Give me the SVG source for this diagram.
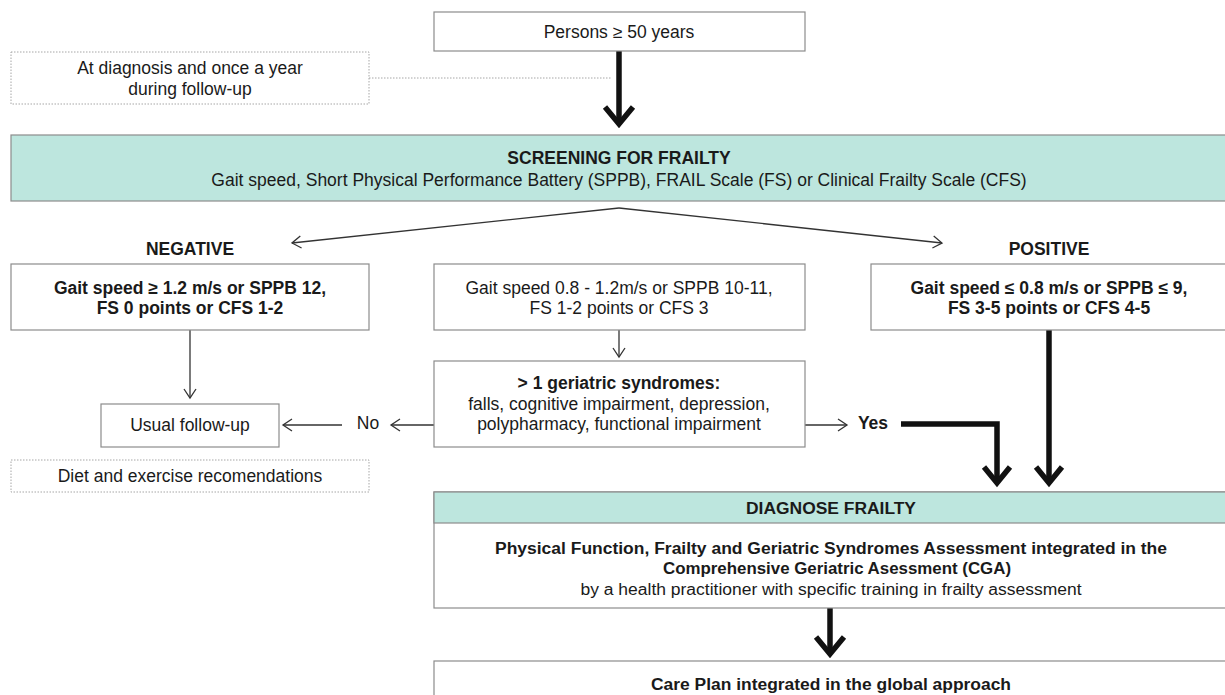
<svg xmlns="http://www.w3.org/2000/svg" width="1225" height="695" viewBox="0 0 1225 695">
<style>
text{font-family:"Liberation Sans",Arial,sans-serif;font-size:17.5px;fill:#1a1a1a;text-anchor:middle}
.b{font-weight:bold}
.n{font-family:"Liberation Sans Narrow","Liberation Sans",Arial,sans-serif;font-size:16px}
.box{fill:#fff;stroke:#8c8c8c;stroke-width:1.2}
.teal{fill:#bde6de;stroke:#8c8c8c;stroke-width:1.2}
.dot{fill:#fff;stroke:#a6a6a6;stroke-width:1;stroke-dasharray:1.5 1.5}
.thin{fill:none;stroke:#333;stroke-width:1.3}
.thick{fill:none;stroke:#111;stroke-width:5.5}
</style>
<defs>
<marker id="open" markerWidth="14" markerHeight="14" refX="10" refY="7" orient="auto" markerUnits="userSpaceOnUse">
<path d="M1,1 L10,7 L1,13" fill="none" stroke="#333" stroke-width="1.3"/>
</marker>
</defs>

<g id="connectors">
<line class="dot" x1="369" y1="78" x2="612" y2="78" style="fill:none"/>
<path class="thick" d="M619,51 V124"/>
<path class="thick" d="M605,107 L619,124 L633,107"/>
<path class="thin" d="M619,208 L292,243" marker-end="url(#open)"/>
<path class="thin" d="M619,208 L942,243" marker-end="url(#open)"/>
<path class="thin" d="M190,330 V398" marker-end="url(#open)"/>
<path class="thin" d="M619,330 V357" marker-end="url(#open)"/>
<path class="thin" d="M434,425 H391" marker-end="url(#open)"/>
<path class="thin" d="M342,425 H283" marker-end="url(#open)"/>
<path class="thin" d="M805,425 H847" marker-end="url(#open)"/>
<path class="thick" d="M901,424 H997 V483"/>
<path class="thick" d="M984,467 L997,483 L1010,467"/>
<path class="thick" d="M1049,330 V483"/>
<path class="thick" d="M1036,467 L1049,483 L1062,467"/>
<path class="thick" d="M830,608 V653"/>
<path class="thick" d="M816,637 L830,654 L844,637"/>
</g>

<g id="persons">
<rect class="box" x="434" y="12" width="371" height="39"/>
<text x="619" y="38">Persons ≥ 50 years</text>
</g>

<g id="note-diagnosis">
<rect class="dot" x="11" y="52" width="358" height="52"/>
<text x="190" y="74">At diagnosis and once a year</text>
<text x="190" y="95">during follow-up</text>
</g>

<g id="screening">
<rect class="teal" x="11" y="135" width="1220" height="66"/>
<text class="b" x="619" y="164">SCREENING FOR FRAILTY</text>
<text x="619" y="186">Gait speed, Short Physical Performance Battery (SPPB), FRAIL Scale (FS) or Clinical Frailty Scale (CFS)</text>
</g>

<g id="negative-label"><text class="b" x="190" y="255">NEGATIVE</text></g>
<g id="positive-label"><text class="b" x="1049" y="255">POSITIVE</text></g>

<g id="negative">
<rect class="box" x="11" y="264" width="358" height="66"/>
<text class="b" x="190" y="294">Gait speed ≥ 1.2 m/s or SPPB 12,</text>
<text class="b" x="190" y="314">FS 0 points or CFS 1-2</text>
</g>

<g id="intermediate">
<rect class="box" x="434" y="264" width="371" height="66"/>
<text x="619" y="294">Gait speed 0.8 - 1.2m/s or SPPB 10-11,</text>
<text x="619" y="314">FS 1-2 points or CFS 3</text>
</g>

<g id="positive">
<rect class="box" x="871" y="264" width="360" height="66"/>
<text class="b" x="1049" y="294">Gait speed ≤ 0.8 m/s or SPPB ≤ 9,</text>
<text class="b" x="1049" y="314">FS 3-5 points or CFS 4-5</text>
</g>

<g id="geriatric">
<rect class="box" x="434" y="361" width="371" height="86"/>
<text class="b" x="619" y="389">&gt; 1 geriatric syndromes:</text>
<text x="619" y="410">falls, cognitive impairment, depression,</text>
<text x="619" y="430">polypharmacy, functional impairment</text>
</g>

<g id="usual">
<rect class="box" x="101" y="404" width="178" height="43"/>
<text x="190" y="431">Usual follow-up</text>
</g>

<g id="no-label"><text x="368" y="429">No</text></g>
<g id="yes-label"><text class="b" x="873" y="429">Yes</text></g>

<g id="diet">
<rect class="dot" x="11" y="460" width="358" height="32"/>
<text x="190" y="482">Diet and exercise recomendations</text>
</g>

<g id="diagnose">
<rect class="box" x="434" y="492" width="797" height="116"/>
<rect class="teal" x="434" y="492" width="797" height="31"/>
<text class="b n" x="831" y="514" textLength="170" lengthAdjust="spacingAndGlyphs">DIAGNOSE FRAILTY</text>
<text class="b n" x="831" y="554" textLength="672" lengthAdjust="spacingAndGlyphs">Physical Function, Frailty and Geriatric Syndromes Assessment integrated in the</text>
<text class="b n" x="837" y="574" textLength="348" lengthAdjust="spacingAndGlyphs">Comprehensive Geriatric Asessment (CGA)</text>
<text class="n" x="831" y="595" textLength="501" lengthAdjust="spacingAndGlyphs">by a health practitioner with specific training in frailty assessment</text>
</g>

<g id="careplan">
<rect class="box" x="434" y="661" width="797" height="40"/>
<text class="b n" x="831" y="690" textLength="360" lengthAdjust="spacingAndGlyphs">Care Plan integrated in the global approach</text>
</g>
</svg>
